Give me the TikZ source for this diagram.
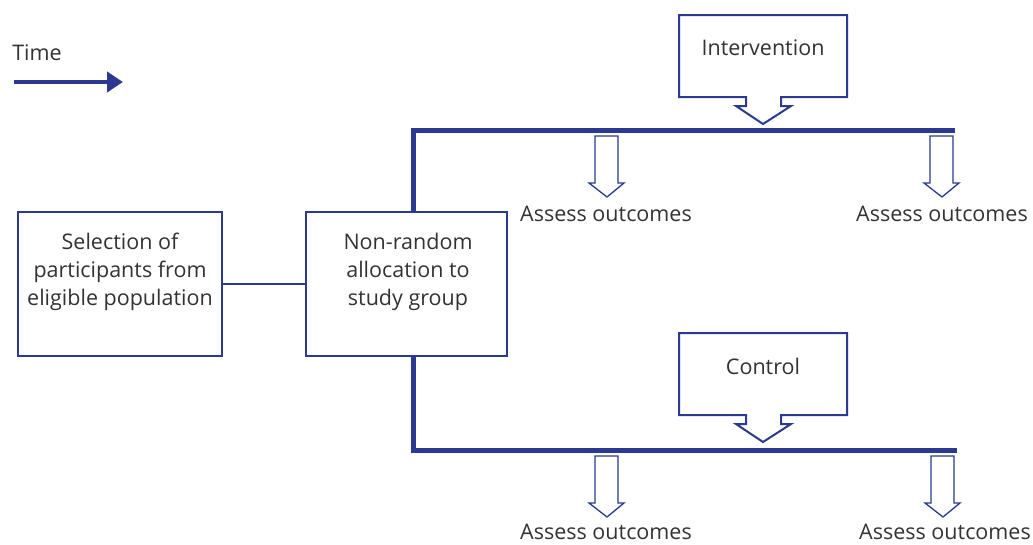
\documentclass[tikz,border=0pt]{standalone}
\usepackage{fontspec}
\setmainfont{Open Sans}
\usepackage{tikz}
\usetikzlibrary{arrows.meta}
\definecolor{navy}{HTML}{2B3990}
\definecolor{ink}{HTML}{333333}

% hollow down arrow, tip at (#1,#2)
\newcommand{\hollowdown}[2]{%
    \draw[arrowline] (#1-12,#2-61) -- (#1+11,#2-61) -- (#1+11,#2-14)
        -- (#1+17,#2-14) -- (#1,#2) -- (#1-18,#2-14) -- (#1-12,#2-14) -- cycle;}
% callout box with arrow pointing down to (#1,#2)
\newcommand{\calloutbox}[2]{%
    \draw[callout] (#1-84,#2-109) -- (#1+84,#2-109) -- (#1+84,#2-27)
        -- (#1+18,#2-27) -- (#1+18,#2-18) -- (#1+28,#2-18) -- (#1,#2)
        -- (#1-27,#2-18) -- (#1-17,#2-18) -- (#1-17,#2-27) -- (#1-84,#2-27) -- cycle;}

\begin{document}
\begin{tikzpicture}[
    x = 1pt, y = -1pt,
    font = \fontsize{21.5}{28}\selectfont,
    every node/.style={text=ink},
    box/.style={draw=navy, line width=2pt, fill=white, minimum width=204pt, minimum height=144pt},
    boxtext/.style={align=center, inner sep=0pt},
    link/.style={draw=navy, line width=1.8pt},
    arm/.style={draw=navy, line width=5pt},
    arrowline/.style={draw=navy, line width=1.3pt, fill=white},
    callout/.style={draw=navy, line width=2pt, fill=white},
    label/.style={anchor=center}
]
    \useasboundingbox (0,0) rectangle (1033,544);

    % time arrow
    \node[label] (time) at (37,53) {Time};
    \coordinate (t0) at (14,82);
    \coordinate (t1) at (123,82);
    \draw[navy, line width=4.5pt, -{Triangle[length=16pt, width=20pt]}] (t0) -- (t1);

    % study arms
    \coordinate (up) at (955,130);
    \coordinate (down) at (957,450);
    \coordinate (split) at (413,290);
    \draw[arm] (up) -- (split |- up) -- (split |- down) -- (down);

    % boxes
    \node[box] (select) at (120,284) {};
    \node[boxtext] (selecttxt) at (120,272) {Selection of\\participants from\\eligible population};
    \node[box, minimum width=201pt] (alloc) at (406.5,284) {};
    \node[boxtext] (alloctxt) at (408,272) {Non-random\\allocation to\\study group};
    \draw[link] (select) -- (alloc);

    % interventions
    \calloutbox{763}{124}
    \node[label] (interv) at (763,48) {Intervention};
    \calloutbox{763}{442}
    \node[label] (ctrl) at (763,366) {Control};

    % outcomes
    \hollowdown{607}{197}
    \node[label] (out1) at (606,214) {Assess outcomes};
    \hollowdown{942}{197}
    \node[label] (out2) at (942,214) {Assess outcomes};
    \hollowdown{607}{517}
    \node[label] (out3) at (606,532) {Assess outcomes};
    \hollowdown{943}{517}
    \node[label] (out4) at (945,532) {Assess outcomes};
\end{tikzpicture}
\end{document}
